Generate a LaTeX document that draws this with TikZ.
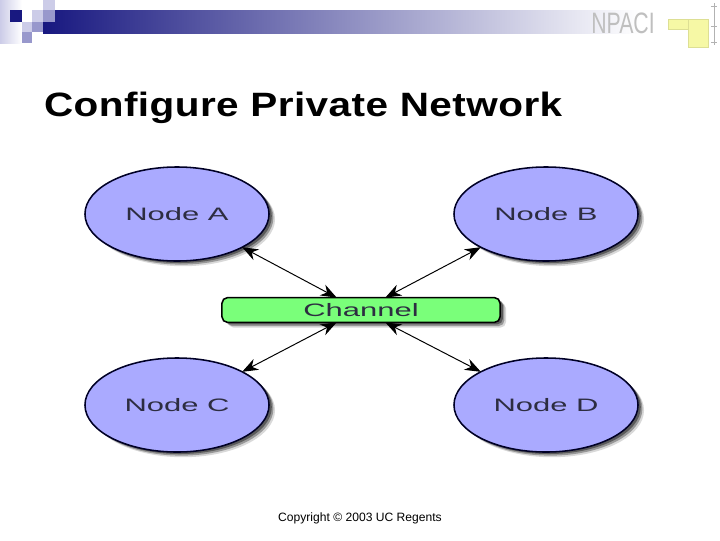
\documentclass[tikz,border=0pt]{standalone}
\usepackage{fontspec}
\usepackage{xcolor}
\usepackage{tikz}
\usetikzlibrary{arrows.meta,shadows,shapes.geometric}
\setmainfont{Liberation Sans}
\newfontfamily\figfont[FakeStretch=1.72]{Liberation Sans}
\newfontfamily\titlefont[FakeStretch=1.2,LetterSpace=1.3]{Liberation Sans Bold}
\newfontfamily\logofont[FakeStretch=0.72]{Liberation Sans}
\definecolor{navy}{RGB}{24,24,128}
\definecolor{paleblue}{RGB}{204,204,232}
\definecolor{midblue}{RGB}{152,152,204}
\definecolor{bandmid}{RGB}{160,160,186}
\definecolor{nodeblue}{RGB}{170,170,255}
\definecolor{channelgreen}{RGB}{122,255,122}
\definecolor{labelgray}{RGB}{45,45,65}
\definecolor{memo}{RGB}{246,248,165}
\begin{document}
\begin{tikzpicture}[
    x=0.025cm,y=-0.025cm,
    every node/.style={inner sep=0pt,outer sep=0pt},
    softshadow/.style={
        general shadow={shadow xshift=1.5mm,shadow yshift=-1.3mm,fill=black,opacity=0.15},
        general shadow={shadow xshift=1.1mm,shadow yshift=-0.9mm,fill=black,opacity=0.3},
        general shadow={shadow xshift=0.7mm,shadow yshift=-0.5mm,fill=black,opacity=0.4}},
    hostnode/.style={ellipse,draw=black!85!blue,line width=1.1pt,fill=nodeblue,minimum width=4.6cm,minimum height=2.35cm,
        font=\figfont\fontsize{12.8}{14}\selectfont,text=labelgray,softshadow},
    channelnode/.style={rounded corners=4pt,draw=black,line width=1.1pt,fill=channelgreen,minimum width=6.95cm,minimum height=0.62cm,
        font=\figfont\fontsize{12.8}{14}\selectfont,text=labelgray,softshadow},
    arr/.style={{Stealth[length=4mm,width=3mm]}-{Stealth[length=4mm,width=3mm]},line width=0.7pt},
    memobox/.style={fill=memo,draw=memo!90!black,line width=0.2pt}
]
\useasboundingbox (0,0) rectangle (720,540);
\fill[white] (0,0) rectangle (720,540);

\shade[left color=paleblue,right color=white] (0,0) rectangle (22,43);
\shade[left color=navy,middle color=bandmid,right color=white] (43,10) rectangle (640,33);
\fill[navy] (10,10) rectangle (22,22);
\fill[paleblue] (32,10) rectangle (43,22);
\fill[paleblue] (43,0) rectangle (55,10);
\fill[midblue] (43,10) rectangle (55,22);
\fill[paleblue] (22,22) rectangle (32,32);
\fill[midblue] (32,22) rectangle (43,32);
\fill[midblue] (22,32) rectangle (32,43);

\node[font=\logofont\fontsize{21}{21}\selectfont,text=black!25] (logo) at (623,23) {NPACI};
\node[memobox,minimum width=0.5cm,minimum height=0.25cm] (memoA) at (678,24) {};
\node[memobox,minimum width=0.5cm,minimum height=0.7cm] (memoB) at (698,33) {};
\draw[black!30,line width=0.2pt] (714,3) -- (714,45) (711,6) -- (717,6) (711,26) -- (717,26) (711,42) -- (717,42);

\node[font=\titlefont\fontsize{24}{26}\selectfont,anchor=west] (title) at (44,108) {Configure Private Network};

\node[hostnode] (nodeA) at (177,214) {Node A};
\node[hostnode] (nodeB) at (546,214) {Node B};
\node[hostnode] (nodeC) at (177,405) {Node C};
\node[hostnode] (nodeD) at (546,405) {Node D};
\node[channelnode] (channel) at (361,310) {Channel};

\draw[arr] (nodeA.-27) -- (channel.153);
\draw[arr] (nodeB.207) -- (channel.27);
\draw[arr] (nodeC.27) -- (channel.207);
\draw[arr] (nodeD.153) -- (channel.-27);

\node[font=\fontsize{8.6}{10}\selectfont] (copyright) at (360,518) {Copyright © 2003 UC Regents};
\end{tikzpicture}
\end{document}
